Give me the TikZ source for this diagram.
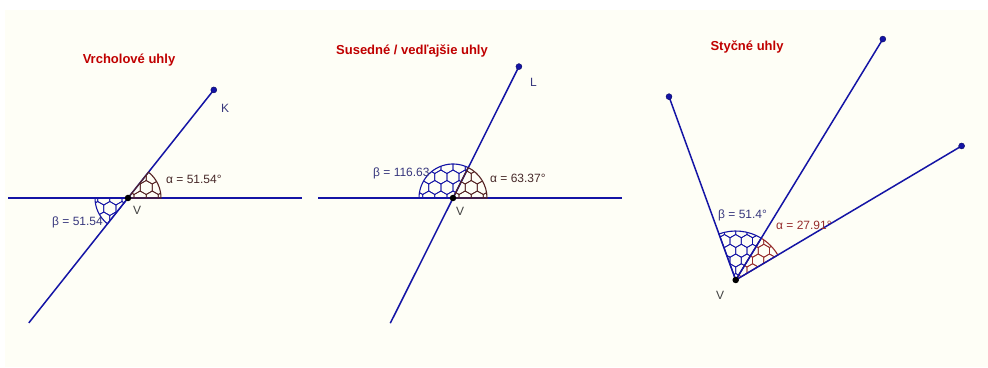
\documentclass[tikz,border=0pt]{standalone}
\usepackage{fontspec}
\setmainfont{Liberation Sans}
\usetikzlibrary{calc}
\definecolor{ln}{RGB}{20,20,165}
\definecolor{brn}{RGB}{85,35,35}
\definecolor{rbrn}{RGB}{150,45,45}
\definecolor{ttl}{RGB}{192,0,0}
\definecolor{lblb}{RGB}{55,55,125}
\definecolor{lblbr}{RGB}{70,40,40}
\definecolor{bgc}{RGB}{254,254,246}
\newcommand{\hexgridfill}[2]{%
  \foreach \j in {-6,...,6}{\foreach \i in {-6,...,6}{%
    \pgfmathsetmacro{\hx}{(\i+0.5*mod(abs(\j),2))*1.732*#2}%
    \pgfmathsetmacro{\hy}{\j*1.5*#2}%
    \draw (\hx,\hy) +(90:#2) -- +(150:#2) -- +(210:#2) -- +(270:#2) -- +(330:#2) -- +(30:#2) -- cycle;
  }}}
% center, start angle, end angle, radius, colour, hex size
\newcommand{\anglesector}[6]{%
  \begin{scope}[shift={(#1)}]
    \begin{scope}
      \clip (0,0) -- (#2:#4) arc[start angle=#2, end angle=#3, radius=#4] -- cycle;
      \begin{scope}[draw=#5, line width=0.75pt]
        \hexgridfill{#4}{#6}
      \end{scope}
    \end{scope}
    \draw[#5, line width=1.1pt] (0,0) -- (#2:#4) arc[start angle=#2, end angle=#3, radius=#4] -- cycle;
  \end{scope}}
\tikzset{
  geoline/.style={ln, line width=1.5pt},
  ptdot/.style={circle, fill=ln, draw=ln!60!black, inner sep=0pt, minimum size=6pt},
  vdot/.style={circle, fill=black, inner sep=0pt, minimum size=6.5pt},
  ttltext/.style={text=ttl, font=\bfseries\fontsize{13}{15}\selectfont},
  lbl/.style={font=\fontsize{12}{14}\selectfont, inner sep=0pt, anchor=west},
}
\begin{document}
\begin{tikzpicture}[x=1pt, y=1pt]
\useasboundingbox (0,0) rectangle (988,367);
\fill[white] (0,0) rectangle (988,367);
\fill[bgc] (5,0) rectangle (988,357);

% ---------- Panel 1 ----------
\coordinate (V1) at (128,169);
\coordinate (H1a) at (8,169);
\coordinate (H1b) at (302,169);
\coordinate (K) at (213.8,277.1);
\coordinate (E1) at (28.8,44.1);
\draw[geoline] (H1a) -- (H1b);
\draw[geoline] (E1) -- (K);
\anglesector{V1}{180}{231.54}{33}{ln}{7}
\anglesector{V1}{0}{51.54}{33}{brn}{7}
\node[ptdot] (Kdot) at (K) {};
\node[vdot] (V1dot) at (V1) {};
\node[ttltext] (t1) at (129,307) {Vrcholové uhly};
\node[lbl, text=lblb] (Kl) at (221,259) {K};
\node[lbl, text=black!75] (V1l) at (133,157) {V};
\node[lbl, text=lblbr] (a1) at (166,188) {α = 51.54°};
\node[lbl, text=lblb] (b1) at (52,145) {β = 51.54};

% ---------- Panel 2 ----------
\coordinate (V2) at (453,169);
\coordinate (H2a) at (318,169);
\coordinate (H2b) at (622,169);
\coordinate (L) at (518.9,300.4);
\coordinate (E2) at (390.3,43.8);
\draw[geoline] (H2a) -- (H2b);
\draw[geoline] (E2) -- (L);
\anglesector{V2}{63.37}{180}{34}{ln}{7}
\anglesector{V2}{0}{63.37}{34}{brn}{7}
\node[ptdot] (Ldot) at (L) {};
\node[vdot] (V2dot) at (V2) {};
\node[ttltext] (t2) at (412,316) {Susedné / vedľajšie uhly};
\node[lbl, text=lblb] (Ll) at (530,285) {L};
\node[lbl, text=black!75] (V2l) at (456,156) {V};
\node[lbl, text=lblbr] (a2) at (490,189) {α = 63.37°};
\node[lbl, text=lblb] (b2) at (373,194) {β = 116.63};

% ---------- Panel 3 ----------
\coordinate (V3) at (735.7,87);
\coordinate (P1) at ($(V3)+(30.68:262.7)$);
\coordinate (P2) at ($(V3)+(58.59:282.3)$);
\coordinate (P3) at ($(V3)+(109.99:195.1)$);
\anglesector{V3}{58.59}{109.99}{49}{ln}{6.5}
\anglesector{V3}{30.68}{58.59}{49}{rbrn}{6.5}
\draw[geoline] (V3) -- (P1);
\draw[geoline] (V3) -- (P2);
\draw[geoline] (V3) -- (P3);
\node[ptdot] (P1dot) at (P1) {};
\node[ptdot] (P2dot) at (P2) {};
\node[ptdot] (P3dot) at (P3) {};
\node[vdot] (V3dot) at (V3) {};
\node[ttltext] (t3) at (747,320) {Styčné uhly};
\node[lbl, text=black!75] (V3l) at (716,72) {V};
\node[lbl, text=lblb] (b3) at (718,152) {β = 51.4°};
\node[lbl, text=rbrn] (a3) at (776,142) {α = 27.91°};
\end{tikzpicture}
\end{document}
